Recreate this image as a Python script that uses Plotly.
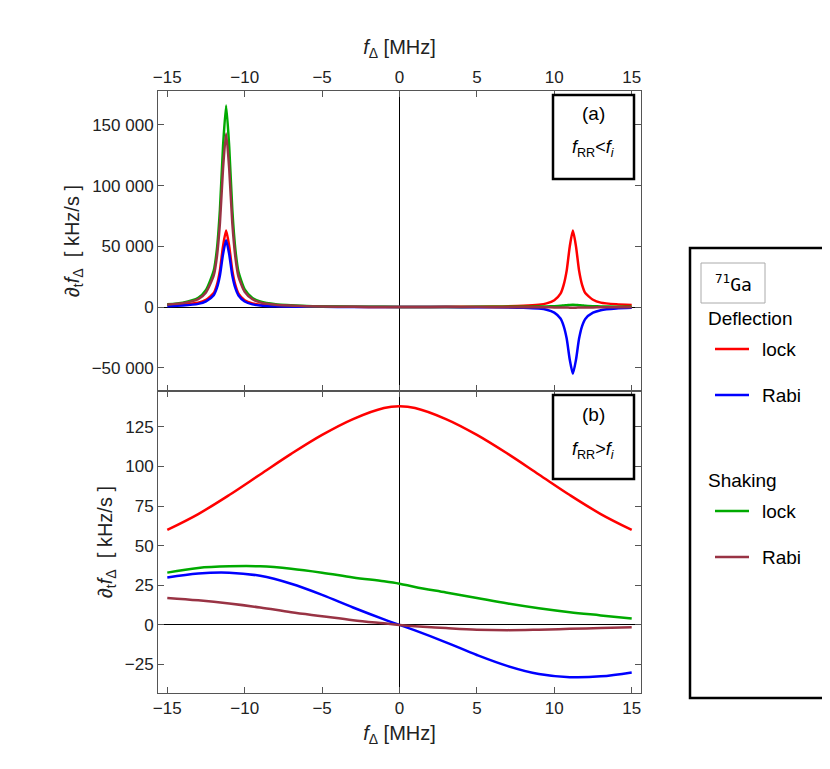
import plotly.graph_objects as go

# top panel (a): sharp resonances near +-11.2 MHz
x_a = [-15, -14, -13, -12.5, -12, -11.8, -11.6, -11.4, -11.2, -11, -10.8, -10.6, -10.4, -10, -9.5, -9, -8, -6, -4, -2,
       0, 2, 4, 6, 8, 9, 9.5, 10, 10.4, 10.6, 10.8, 11, 11.2, 11.4, 11.6, 11.8, 12, 12.5, 13, 14, 15]
defl_lock_a = [1600, 2200, 3600, 6000, 11500, 18000, 30000, 50000, 63000, 50000, 30000, 18000, 11000, 5600, 3000, 1900, 1000, 450, 220, 90,
               0, 90, 220, 450, 1000, 1900, 3000, 5600, 11000, 18000, 30000, 50000, 63000, 50000, 30000, 18000, 11500, 6000, 3600, 2200, 1600]
defl_rabi_a = [700, 1200, 2600, 4700, 9800, 15500, 26000, 43500, 55000, 43500, 26000, 15500, 9500, 4600, 2200, 1300, 600, 220, 90, 30,
               0, -30, -90, -220, -600, -1300, -2200, -4600, -9500, -15500, -26000, -43500, -55000, -43500, -26000, -15500, -9800, -4700, -2600, -1200, -700]
shak_lock_a = [2200, 3600, 7500, 14000, 30000, 47000, 80000, 132000, 166000, 132000, 80000, 47000, 29000, 14500, 7500, 4500, 2200, 900, 450, 200,
               100, 100, 100, 150, 250, 350, 450, 700, 1000, 1300, 1500, 1700, 1800, 1700, 1500, 1300, 1000, 700, 500, 300, 200]
shak_rabi_a = [2000, 3200, 6500, 12000, 26000, 41000, 69000, 114000, 143000, 114000, 69000, 41000, 25000, 12500, 6400, 3800, 1800, 700, 280, 80,
               0, -30, -60, -100, -150, -200, -250, -300, -350, -400, -450, -500, -500, -500, -450, -400, -350, -300, -250, -200, -150]

# bottom panel (b): broad curves
x_b = [-15, -13, -11, -9, -7, -5, -3, -1, 0, 1, 3, 5, 7, 9, 11, 13, 15]
defl_lock_b = [60, 70, 82, 95, 108, 120, 130, 137, 138, 137, 130, 120, 108, 95, 82, 70, 60]
defl_rabi_b = [30, 32.5, 33, 31, 26, 19, 11, 3.5, 0, -3.5, -11, -19, -26, -31, -33, -32.5, -30]
shak_lock_b = [33, 36, 37, 37, 35.5, 33, 30, 27.5, 26, 24, 20.5, 17, 13.5, 10.5, 8, 6, 4]
shak_rabi_b = [17, 15.5, 13.5, 11, 8, 5.5, 3, 1, 0, -0.8, -2, -3, -3.3, -3, -2.5, -2, -1.5]

RED, BLUE, GREEN, BROWN = "#ff0000", "#0000ff", "#00aa00", "#993344"
FONT = "Liberation Sans"

fig = go.Figure()
for ys, c in [(defl_lock_a, RED), (defl_rabi_a, BLUE), (shak_lock_a, GREEN), (shak_rabi_a, BROWN)]:
    fig.add_scatter(x=x_a, y=ys, xaxis="x2", yaxis="y2", mode="lines",
                    line=dict(color=c, width=2.5, shape="spline", smoothing=0.6), showlegend=False)
for ys, c in [(defl_lock_b, RED), (defl_rabi_b, BLUE), (shak_lock_b, GREEN), (shak_rabi_b, BROWN)]:
    fig.add_scatter(x=x_b, y=ys, mode="lines", line=dict(color=c, width=2.5, shape="spline"),
                    showlegend=False)

xt = [-15, -10, -5, 0, 5, 10, 15]
common = dict(showline=True, linecolor="#555", mirror="allticks", ticks="inside", ticklen=6,
              tickcolor="#555", showgrid=False, zeroline=True, zerolinecolor="black", zerolinewidth=1,
              tickfont=dict(size=17, color="#222"), automargin=False)
split = 302 / 602
fig.update_layout(
    width=830, height=769, plot_bgcolor="white", paper_bgcolor="white",
    font=dict(family=FONT, size=17, color="#222"),
    margin=dict(l=150, r=197, t=83, b=84),
    xaxis=dict(range=[-15.6, 15.6], domain=[0, 1], anchor="y", tickvals=xt,
               ticktext=[str(v).replace("-", "−") for v in xt],
               title=dict(text="<i>f</i><sub>Δ</sub> [MHz]", standoff=8), **common),
    xaxis2=dict(range=[-15.6, 15.6], domain=[0, 1], anchor="y2", side="top", tickvals=xt,
                ticktext=[str(v).replace("-", "−") for v in xt],
                title=dict(text="<i>f</i><sub>Δ</sub> [MHz]", standoff=8), **common),
    yaxis=dict(range=[-43, 147.7], domain=[0, split], anchor="x",
               tickvals=[-25, 0, 25, 50, 75, 100, 125], ticktext=["−25", "0", "25", "50", "75", "100", "125"],
               title=dict(text="∂<sub>t</sub><i>f</i><sub>Δ</sub>  [ kHz/s ]", standoff=6), **common),
    yaxis2=dict(range=[-69200, 178000], domain=[split, 1], anchor="x2",
                tickvals=[-50000, 0, 50000, 100000, 150000],
                ticktext=["−50 000", "0", "50 000", "100 000", "150 000"],
                title=dict(text="∂<sub>t</sub><i>f</i><sub>Δ</sub>  [ kHz/s ]", standoff=6), **common),
)

def px(xp): return (xp - 150) / 483
def py(yp): return (685 - yp) / 602

shapes = []
# panel label boxes
for y0, y1 in [(87, 171), (387, 471)]:
    shapes.append(dict(type="rect", xref="paper", yref="paper", x0=px(545), x1=px(626), y0=py(y1), y1=py(y0),
                       line=dict(color="black", width=2.5), fillcolor="white"))
shapes.append(dict(type="rect", xref="paper", yref="paper", x0=px(682), x1=px(826), y0=py(690), y1=py(240),
                   line=dict(color="black", width=2.5)))
shapes.append(dict(type="rect", xref="paper", yref="paper", x0=px(693), x1=px(757), y0=py(295), y1=py(255),
                   line=dict(color="#aaa", width=1)))
for yy, c in [(341, RED), (387, BLUE), (503, GREEN), (549, BROWN)]:
    shapes.append(dict(type="line", xref="paper", yref="paper", x0=px(707), x1=px(741), y0=py(yy), y1=py(yy),
                       line=dict(color=c, width=2.5)))
fig.update_layout(shapes=shapes)

ann = [
    ("(a)", 585, 106, "center"), ("<i>f</i><sub>RR</sub><<i>f<sub>i</sub></i>", 585, 141, "center"),
    ("(b)", 585, 406, "center"), ("<i>f</i><sub>RR</sub>><i>f<sub>i</sub></i>", 585, 442, "center"),
    ("<sup>71</sup>Ga", 725, 275, "center"),
    ("Deflection", 698, 310, "left"), ("lock", 752, 341, "left"), ("Rabi", 752, 387, "left"),
    ("Shaking", 698, 472, "left"), ("lock", 752, 503, "left"), ("Rabi", 752, 549, "left"),
]
for t, xx, yy, al in ann:
    fig.add_annotation(text=t, xref="paper", yref="paper", x=px(xx), y=py(yy), xanchor=al,
                       yanchor="middle", showarrow=False, font=dict(size=19 if al == "left" or t.startswith("(") else 18,
                       family="DejaVu Sans Mono" if "Ga" in t else FONT, color="black"))

fig.write_html("out.html")
